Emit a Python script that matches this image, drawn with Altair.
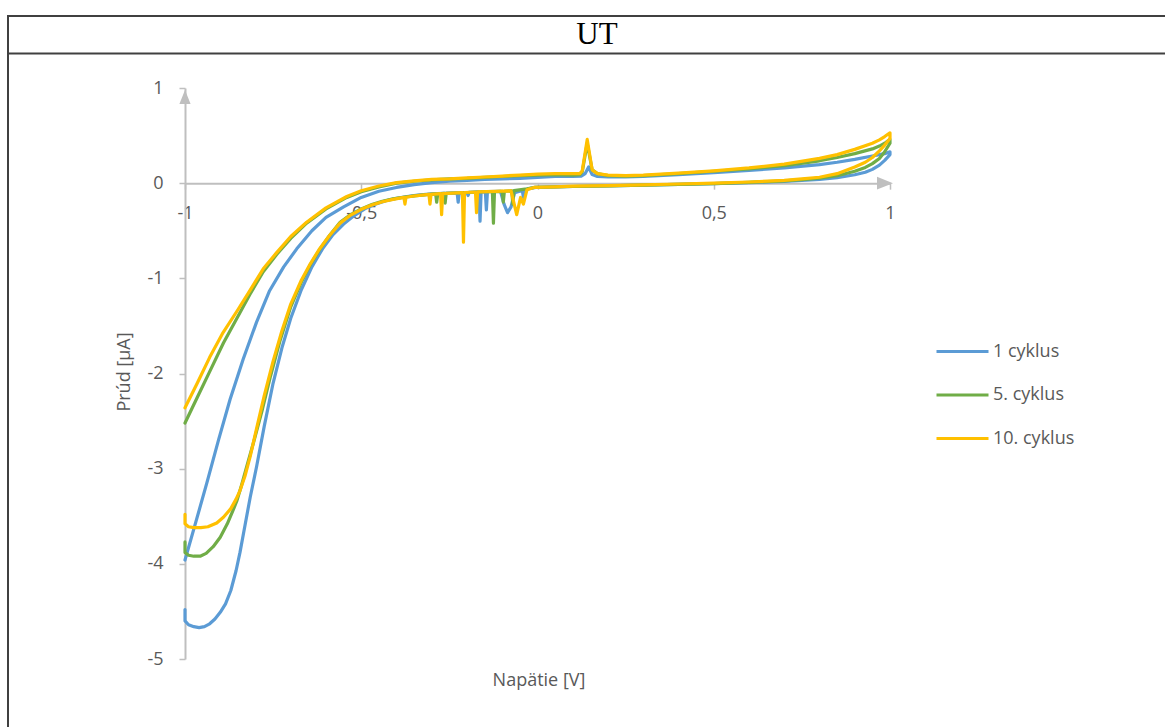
import altair as alt
import pandas as pd

# ---------------- data ----------------
SERIES = ["1 cyklus", "5. cyklus", "10. cyklus"]
COLORS = ["#5B9BD5", "#70AD47", "#FFC000"]

# 1 cyklus : hook/inner branch -> lower branch (with spikes) -> upper branch -> outer branch
X_1 = [-1.000, -1.000, -0.990, -0.975, -0.960, -0.945, -0.930, -0.915, -0.900, -0.885, -0.870, -0.855,
       -0.844, -0.830, -0.815, -0.797, -0.775, -0.750, -0.725, -0.700, -0.670, -0.640, -0.610, -0.580,
       -0.550, -0.520, -0.490, -0.460, -0.430, -0.400, -0.370, -0.340, -0.300, -0.250, -0.228, -0.225,
       -0.222, -0.200, -0.197, -0.194, -0.166, -0.163, -0.160, -0.148, -0.145, -0.142, -0.105, -0.095,
       -0.085, -0.075, -0.065, -0.043, -0.040, -0.037, -0.020, -0.005, 0.050, 0.100, 0.200, 0.300,
       0.400, 0.500, 0.600, 0.700, 0.750, 0.800, 0.850, 0.900, 0.930, 0.950, 0.970, 0.985, 1.000,
       1.000, 0.985, 0.970, 0.950, 0.900, 0.850, 0.800, 0.700, 0.600, 0.500, 0.400, 0.300, 0.250,
       0.200, 0.170, 0.155, 0.145, 0.135, 0.125, 0.100, 0.050, 0.000, -0.050, -0.100, -0.150, -0.200,
       -0.250, -0.300, -0.350, -0.400, -0.450, -0.500, -0.550, -0.600, -0.640, -0.683, -0.720, -0.760,
       -0.797, -0.835, -0.872, -0.905, -0.938, -0.970, -1.000]
Y_1 = [-4.48, -4.60, -4.64, -4.66, -4.67, -4.66, -4.63, -4.58, -4.51, -4.42, -4.28, -4.07,
       -3.88, -3.60, -3.30, -2.98, -2.55, -2.10, -1.73, -1.42, -1.12, -0.88, -0.69, -0.54,
       -0.43, -0.34, -0.27, -0.22, -0.185, -0.160, -0.140, -0.125, -0.112, -0.105, -0.102, -0.20,
       -0.101, -0.098, -0.13, -0.097, -0.092, -0.40, -0.091, -0.090, -0.28, -0.089, -0.085, -0.22,
       -0.31, -0.25, -0.10, -0.076, -0.15, -0.072, -0.055, -0.045, -0.040, -0.035, -0.028, -0.020,
       -0.012, -0.005, 0.005, 0.018, 0.028, 0.040, 0.058, 0.088, 0.115, 0.145, 0.19, 0.24, 0.30,
       0.33, 0.31, 0.30, 0.285, 0.25, 0.22, 0.195, 0.16, 0.135, 0.11, 0.09, 0.07, 0.065,
       0.065, 0.07, 0.09, 0.17, 0.10, 0.075, 0.07, 0.07, 0.06, 0.05, 0.045, 0.04, 0.03,
       0.02, 0.005, -0.015, -0.045, -0.085, -0.15, -0.25, -0.36, -0.50, -0.69, -0.88, -1.13,
       -1.46, -1.85, -2.27, -2.70, -3.15, -3.57, -3.96]

# 5. cyklus
X_5 = [-1.000, -1.000, -0.990, -0.975, -0.957, -0.940, -0.920, -0.900, -0.880, -0.865, -0.853, -0.840,
       -0.825, -0.806, -0.780, -0.759, -0.730, -0.700, -0.670, -0.645, -0.617, -0.590, -0.560, -0.530,
       -0.500, -0.470, -0.440, -0.410, -0.380, -0.350, -0.300, -0.289, -0.286, -0.283, -0.265, -0.262,
       -0.259, -0.200, -0.150, -0.128, -0.125, -0.122, -0.100, -0.097, -0.094, -0.073, -0.070, -0.067,
       -0.030, -0.010, 0.050, 0.100, 0.200, 0.300, 0.400, 0.500, 0.600, 0.700, 0.750, 0.800, 0.850,
       0.900, 0.930, 0.950, 0.970, 0.985, 1.000,
       1.000, 0.985, 0.970, 0.950, 0.900, 0.850, 0.800, 0.700, 0.600, 0.500, 0.400, 0.300, 0.250,
       0.200, 0.170, 0.155, 0.141, 0.127, 0.120, 0.100, 0.050, 0.000, -0.050, -0.100, -0.150, -0.200,
       -0.250, -0.300, -0.350, -0.400, -0.450, -0.500, -0.541, -0.600, -0.655, -0.700, -0.740, -0.778,
       -0.816, -0.850, -0.891, -0.930, -0.965, -1.000]
Y_5 = [-3.77, -3.88, -3.91, -3.92, -3.92, -3.89, -3.82, -3.72, -3.58, -3.45, -3.34, -3.18,
       -2.98, -2.73, -2.37, -2.05, -1.65, -1.30, -1.04, -0.86, -0.69, -0.55, -0.41, -0.33,
       -0.27, -0.225, -0.19, -0.165, -0.148, -0.133, -0.115, -0.113, -0.20, -0.111, -0.107, -0.21,
       -0.106, -0.098, -0.090, -0.088, -0.42, -0.088, -0.086, -0.20, -0.085, -0.080, -0.22, -0.079,
       -0.060, -0.045, -0.040, -0.035, -0.028, -0.020, -0.012, -0.004, 0.008, 0.025, 0.038, 0.052, 0.078,
       0.125, 0.165, 0.205, 0.26, 0.33, 0.42,
       0.46, 0.42, 0.39, 0.36, 0.31, 0.27, 0.235, 0.185, 0.15, 0.125, 0.10, 0.08, 0.075,
       0.08, 0.10, 0.14, 0.42, 0.12, 0.09, 0.085, 0.09, 0.085, 0.08, 0.07, 0.06, 0.05,
       0.045, 0.035, 0.02, 0.00, -0.04, -0.09, -0.15, -0.27, -0.42, -0.58, -0.75, -0.93,
       -1.17, -1.40, -1.68, -1.98, -2.25, -2.52]

# 10. cyklus
X_10 = [-1.000, -1.000, -0.990, -0.975, -0.955, -0.935, -0.910, -0.891, -0.870, -0.855, -0.844, -0.830,
        -0.815, -0.797, -0.775, -0.750, -0.725, -0.700, -0.670, -0.645, -0.620, -0.590, -0.560, -0.530,
        -0.500, -0.470, -0.440, -0.410, -0.379, -0.376, -0.373, -0.350, -0.308, -0.305, -0.302, -0.275,
        -0.272, -0.269, -0.213, -0.210, -0.207, -0.176, -0.173, -0.170, -0.120, -0.075, -0.059, -0.048,
        -0.040, -0.030, -0.010, 0.050, 0.100, 0.200, 0.300, 0.400, 0.500, 0.600, 0.700, 0.750, 0.800,
        0.850, 0.900, 0.930, 0.950, 0.970, 0.985, 1.000,
        1.000, 0.985, 0.970, 0.950, 0.900, 0.850, 0.800, 0.700, 0.600, 0.500, 0.400, 0.300, 0.250,
        0.200, 0.170, 0.155, 0.141, 0.127, 0.120, 0.100, 0.050, 0.000, -0.050, -0.100, -0.150, -0.200,
        -0.250, -0.300, -0.350, -0.400, -0.450, -0.500, -0.541, -0.600, -0.655, -0.700, -0.740, -0.778,
        -0.816, -0.850, -0.892, -0.930, -0.965, -1.000]
Y_10 = [-3.48, -3.58, -3.61, -3.62, -3.62, -3.61, -3.57, -3.51, -3.42, -3.32, -3.23, -3.08,
        -2.87, -2.58, -2.23, -1.87, -1.55, -1.27, -1.02, -0.85, -0.70, -0.55, -0.42, -0.335,
        -0.275, -0.23, -0.195, -0.17, -0.150, -0.22, -0.148, -0.135, -0.118, -0.22, -0.117, -0.110,
        -0.33, -0.109, -0.099, -0.62, -0.098, -0.093, -0.31, -0.092, -0.087, -0.080, -0.33, -0.15,
        -0.22, -0.070, -0.045, -0.038, -0.032, -0.025, -0.017, -0.009, 0.000, 0.012, 0.030, 0.045, 0.062,
        0.100, 0.170, 0.220, 0.270, 0.340, 0.400, 0.470,
        0.53, 0.49, 0.455, 0.42, 0.355, 0.30, 0.26, 0.20, 0.16, 0.13, 0.105, 0.085, 0.08,
        0.085, 0.10, 0.14, 0.46, 0.13, 0.10, 0.10, 0.10, 0.095, 0.085, 0.075, 0.065, 0.055,
        0.045, 0.04, 0.025, 0.005, -0.03, -0.08, -0.14, -0.26, -0.41, -0.56, -0.73, -0.90,
        -1.13, -1.33, -1.57, -1.83, -2.10, -2.36]

X_TICKS = [-1, -0.5, 0, 0.5, 1]
Y_TICKS = [-5, -4, -3, -2, -1, 0, 1]
TITLE = "UT"
X_TITLE = "Napätie [V]"
Y_TITLE = "Prúd [µA]"

# ---------------- table ----------------
rows = []
for name, xs, ys in zip(SERIES, [X_1, X_5, X_10], [Y_1, Y_5, Y_10]):
    for i, (xv, yv) in enumerate(zip(xs, ys)):
        rows.append({"series": name, "i": i, "x": xv, "y": yv})
df = pd.DataFrame(rows)

# ---------------- layout ----------------
PL, PT, PR, PB = 185, 88, 275, 68
W, H = 1165 - PL - PR, 727 - PT - PB   # 705 x 571
Y0 = (1 - 0) / 6 * H                   # pixel of y = 0 inside plot

GRAY = "#595959"
AX = "#BFBFBF"
FONT = "Open Sans"
FS = 18

label_expr = ("datum.value < 0 ? '-' + replace(toString(-datum.value), '.', ',') "
              ": replace(toString(datum.value), '.', ',')")

lines = alt.Chart(df).mark_line(strokeWidth=3.2, strokeJoin="round", strokeCap="round").encode(
    x=alt.X("x:Q", scale=alt.Scale(domain=[-1, 1], nice=False),
            axis=alt.Axis(values=X_TICKS, title=None, offset=-(H - Y0), grid=False,
                          domainColor=AX, domainWidth=2, tickColor=AX, tickWidth=1.5, tickSize=6,
                          labelPadding=15, labelExpr=label_expr, labelFont=FONT, labelFontSize=FS,
                          labelColor=GRAY, labelFlush=False)),
    y=alt.Y("y:Q", scale=alt.Scale(domain=[-5, 1], nice=False),
            axis=alt.Axis(values=Y_TICKS, title=None, grid=False,
                          domainColor=AX, domainWidth=2, tickColor=AX, tickWidth=1.5, tickSize=6,
                          labelPadding=16, labelExpr=label_expr, labelFont=FONT, labelFontSize=FS,
                          labelColor=GRAY)),
    color=alt.Color("series:N", scale=alt.Scale(domain=SERIES, range=COLORS), sort=SERIES,
                    legend=alt.Legend(orient="none", legendX=935 - PL, legendY=324 - PT,
                                      title=None, symbolType="stroke", symbolSize=2704,
                                      symbolStrokeWidth=3, labelFont=FONT, labelFontSize=FS,
                                      labelColor=GRAY, labelOffset=3, rowPadding=6.5, padding=0)),
    order=alt.Order("i:Q"),
)

# series drawn in order: 1, 5, 10 (10 on top)
layers_lines = [lines.transform_filter(alt.datum.series == s) for s in SERIES]

# arrows at axis ends
arrow_x = alt.Chart(pd.DataFrame({"a": [0]})).mark_point(
    shape="M-1,-0.8L1,0L-1,0.8Z", filled=True, color=AX, opacity=1, size=256, strokeWidth=0
).encode(x=alt.value(W - 5), y=alt.value(Y0))
arrow_y = alt.Chart(pd.DataFrame({"a": [0]})).mark_point(
    shape="M-0.8,1L0,-1L0.8,1Z", filled=True, color=AX, opacity=1, size=196, strokeWidth=0
).encode(x=alt.value(0), y=alt.value(9))

# frame (table borders)
frame_df = pd.DataFrame({"a": [0]})
border_top = alt.Chart(frame_df).mark_rule(color="#404040", strokeWidth=2).encode(
    x=alt.value(8 - PL), x2=alt.value(1165 - PL), y=alt.value(16 - PT))
border_sep = alt.Chart(frame_df).mark_rule(color="#404040", strokeWidth=2).encode(
    x=alt.value(8 - PL), x2=alt.value(1165 - PL), y=alt.value(53.5 - PT))
border_left = alt.Chart(frame_df).mark_rule(color="#404040", strokeWidth=2).encode(
    x=alt.value(8 - PL), y=alt.value(15 - PT), y2=alt.value(727 - PT))

title = alt.Chart(frame_df).mark_text(font="Liberation Serif", fontSize=31, color="black",
                                      baseline="middle", align="center").encode(
    x=alt.value(597 - PL), y=alt.value(35 - PT), text=alt.value(TITLE))
xtitle = alt.Chart(frame_df).mark_text(font=FONT, fontSize=FS, color=GRAY,
                                       baseline="middle", align="center").encode(
    x=alt.value(539 - PL), y=alt.value(681 - PT), text=alt.value(X_TITLE))
ytitle = alt.Chart(frame_df).mark_text(font=FONT, fontSize=FS, color=GRAY, angle=270,
                                       baseline="middle", align="center").encode(
    x=alt.value(125 - PL), y=alt.value(372 - PT), text=alt.value(Y_TITLE))

chart = alt.layer(
    *layers_lines, arrow_x, arrow_y, border_top, border_sep, border_left, title, xtitle, ytitle
).properties(
    width=W, height=H,
    autosize=alt.AutoSizeParams(type="none"),
    padding={"left": PL, "top": PT, "right": PR, "bottom": PB},
    background="white",
).configure_view(stroke=None)

chart.save("out.html", embed_options={"renderer": "svg", "actions": False})
